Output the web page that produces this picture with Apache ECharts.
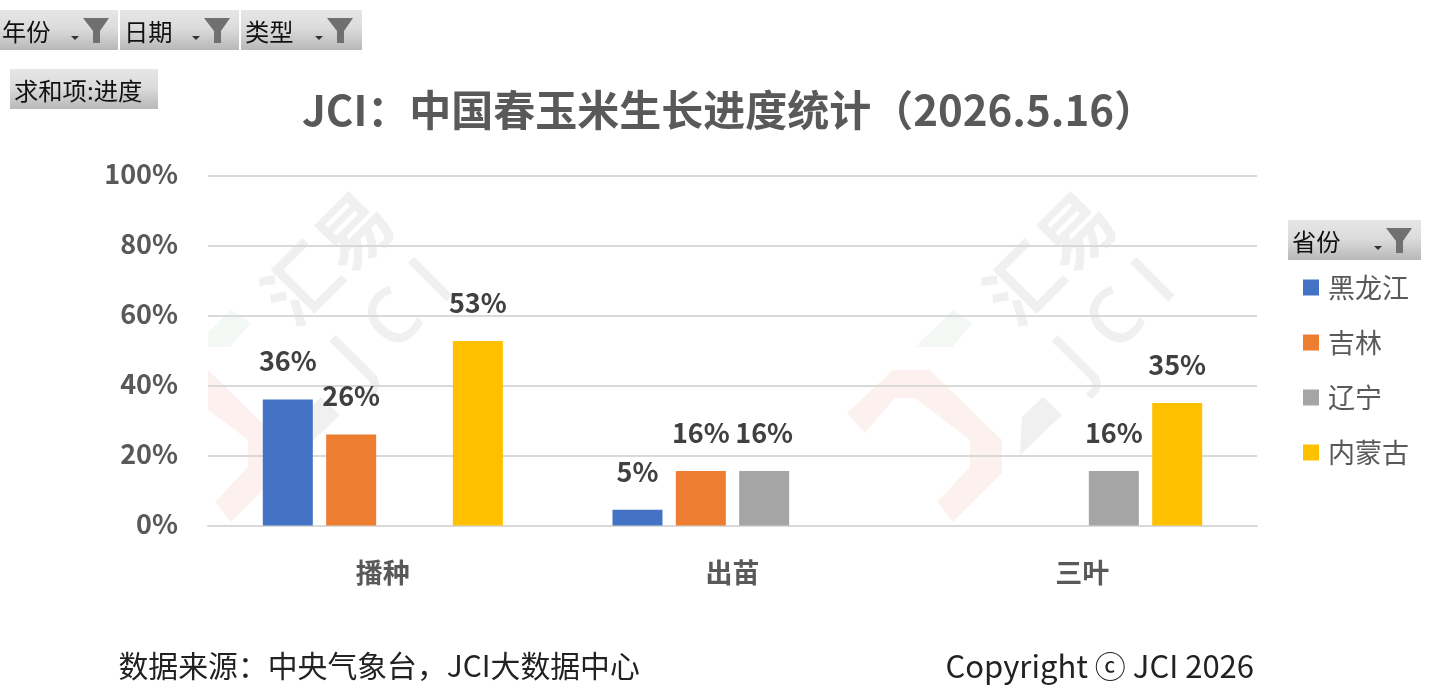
<!DOCTYPE html>
<html><head><meta charset="utf-8">
<style>html,body{margin:0;padding:0;background:#fff}#c{width:1447px;height:693px}</style>
<script src="https://cdn.jsdelivr.net/npm/echarts@6/dist/echarts.min.js"></script>
</head><body><div id="c"></div>
<script>
const categories = ['播种','出苗','三叶'];
const heilongjiang = [36, 4.5, null];
const jilin = [26, 15.6, null];
const liaoning = [null, 15.6, 15.6];
const neimenggu = [52.7, null, 35];
const seriesNames = ['黑龙江','吉林','辽宁','内蒙古'];
const colors = ['#4472C4','#ED7D31','#A5A5A5','#FFC000'];
const CJK = '"Noto Sans CJK SC","Noto Sans",sans-serif';

function button(x,y,w,h,label,filter){
  const els = [{type:'rect',shape:{x,y,width:w,height:h},z:5,style:{fill:new echarts.graphic.LinearGradient(0,0,0,1,[{offset:0,color:'#e6e6e6'},{offset:0.45,color:'#dcdcdc'},{offset:1,color:'#b8b8b8'}])}},
   {type:'text',x:x+4,y:y+h/2+2,z:6,style:{text:label,font:'24.3px '+CJK,fill:'#111',verticalAlign:'middle'}}];
  if(filter){
    const fx=x+w-45;
    els.push({type:'polygon',z:6,shape:{points:[[fx+10,y+8],[fx+36,y+8],[fx+27,y+21],[fx+27,y+33],[fx+20,y+33],[fx+20,y+21]]},style:{fill:'#707070'}});
    els.push({type:'polygon',z:6,shape:{points:[[fx-2,y+26],[fx+6,y+26],[fx+2,y+30]]},style:{fill:'#333'}});
  }
  return els;
}
function wm(dx){
  const gray='#f0f0f0', red='#fdf1ef', green='#f3f8f5';
  const off=pts=>pts.map(p=>[p[0]+dx,p[1]]);
  return [
   {type:'text',x:327+dx,y:257,rotation:Math.PI/4,z:-1,style:{text:'汇易',font:'bold 74px '+CJK,fill:gray,align:'center',verticalAlign:'middle'}},
   {type:'text',x:395+dx,y:322,rotation:Math.PI/4,z:-1,style:{text:'J C I',font:'600 76px "Open Sans",sans-serif',fill:gray,align:'center',verticalAlign:'middle'}},
   {type:'polygon',z:-1,shape:{points:off([[125,413],[171,370],[208,370],[280,440],[280,473],[231,522],[215,502],[248,467],[248,440],[193,398],[173,398],[143,433]])},style:{fill:red}},
   {type:'polygon',z:-1,shape:{points:off([[193,347],[231,310],[251,323],[230,347]])},style:{fill:green}},
   {type:'polygon',z:-1,shape:{points:off([[300,417],[321,397],[340,415],[298,455]])},style:{fill:gray}}
  ];
}
const graphics = [].concat(
  wm(0), wm(722),
  [{type:'rect',z:-0.5,shape:{x:100,y:295,width:108,height:235},style:{fill:'#fff'}}],
  button(-2,10,120,40,'年份',true),
  button(120,10,119,40,'日期',true),
  button(241,10,121,40,'类型',true),
  button(10,69,148,40,'求和项:进度',false),
  button(1288,220,133,40,'省份',true),
  [{type:'text',x:118.5,y:666,style:{text:'数据来源：中央气象台，JCI大数据中心',font:'29.85px '+CJK,fill:'#222',verticalAlign:'middle'}},
   {type:'text',x:1254,y:666,style:{text:'Copyright ⓒ JCI 2026',font:'31px '+CJK,fill:'#222',align:'right',verticalAlign:'middle'}}]
);
const chart = echarts.init(document.getElementById('c'),null,{renderer:'canvas'});
const dl = {show:true,position:'top',distance:25,fontFamily:CJK,fontSize:27,fontWeight:600,color:'#404040',formatter:p=>Math.round(p.value)+'%'};
const datasets=[heilongjiang,jilin,liaoning,neimenggu];
chart.setOption({
  animation:false,
  title:{text:'JCI：中国春玉米生长进度统计（2026.5.16）',left:724,top:84,textAlign:'center',textStyle:{fontFamily:CJK,fontSize:42,fontWeight:'bold',color:'#595959'}},
  grid:{left:208,right:190,top:175.5,bottom:167.5,containLabel:false},
  legend:{orient:'vertical',left:1298,top:269,itemWidth:16,itemHeight:16,itemGap:28,icon:'rect',data:seriesNames,selectedMode:false,textStyle:{fontFamily:CJK,fontSize:27,color:'#595959',padding:[0,0,0,4]}},
  xAxis:{type:'category',data:categories,axisTick:{show:false},axisLine:{lineStyle:{color:'#d9d9d9',width:2}},axisLabel:{fontFamily:CJK,fontSize:27,fontWeight:600,color:'#595959',margin:34}},
  yAxis:{type:'value',min:0,max:100,interval:20,axisLine:{show:false},axisTick:{show:false},splitLine:{lineStyle:{color:'#d9d9d9',width:2}},axisLabel:{formatter:v=>'{a|'+v+'%}',margin:30,rich:{a:{fontFamily:CJK,fontSize:27,fontWeight:600,color:'#595959',padding:[0,0,4,0]}}}},
  series:seriesNames.map((n,i)=>({name:n,type:'bar',data:datasets[i],barWidth:50,barGap:'26.7%',barCategoryGap:'32%',itemStyle:{color:colors[i]},label:dl})),
  graphic:{elements:graphics}
});
</script></body></html>
